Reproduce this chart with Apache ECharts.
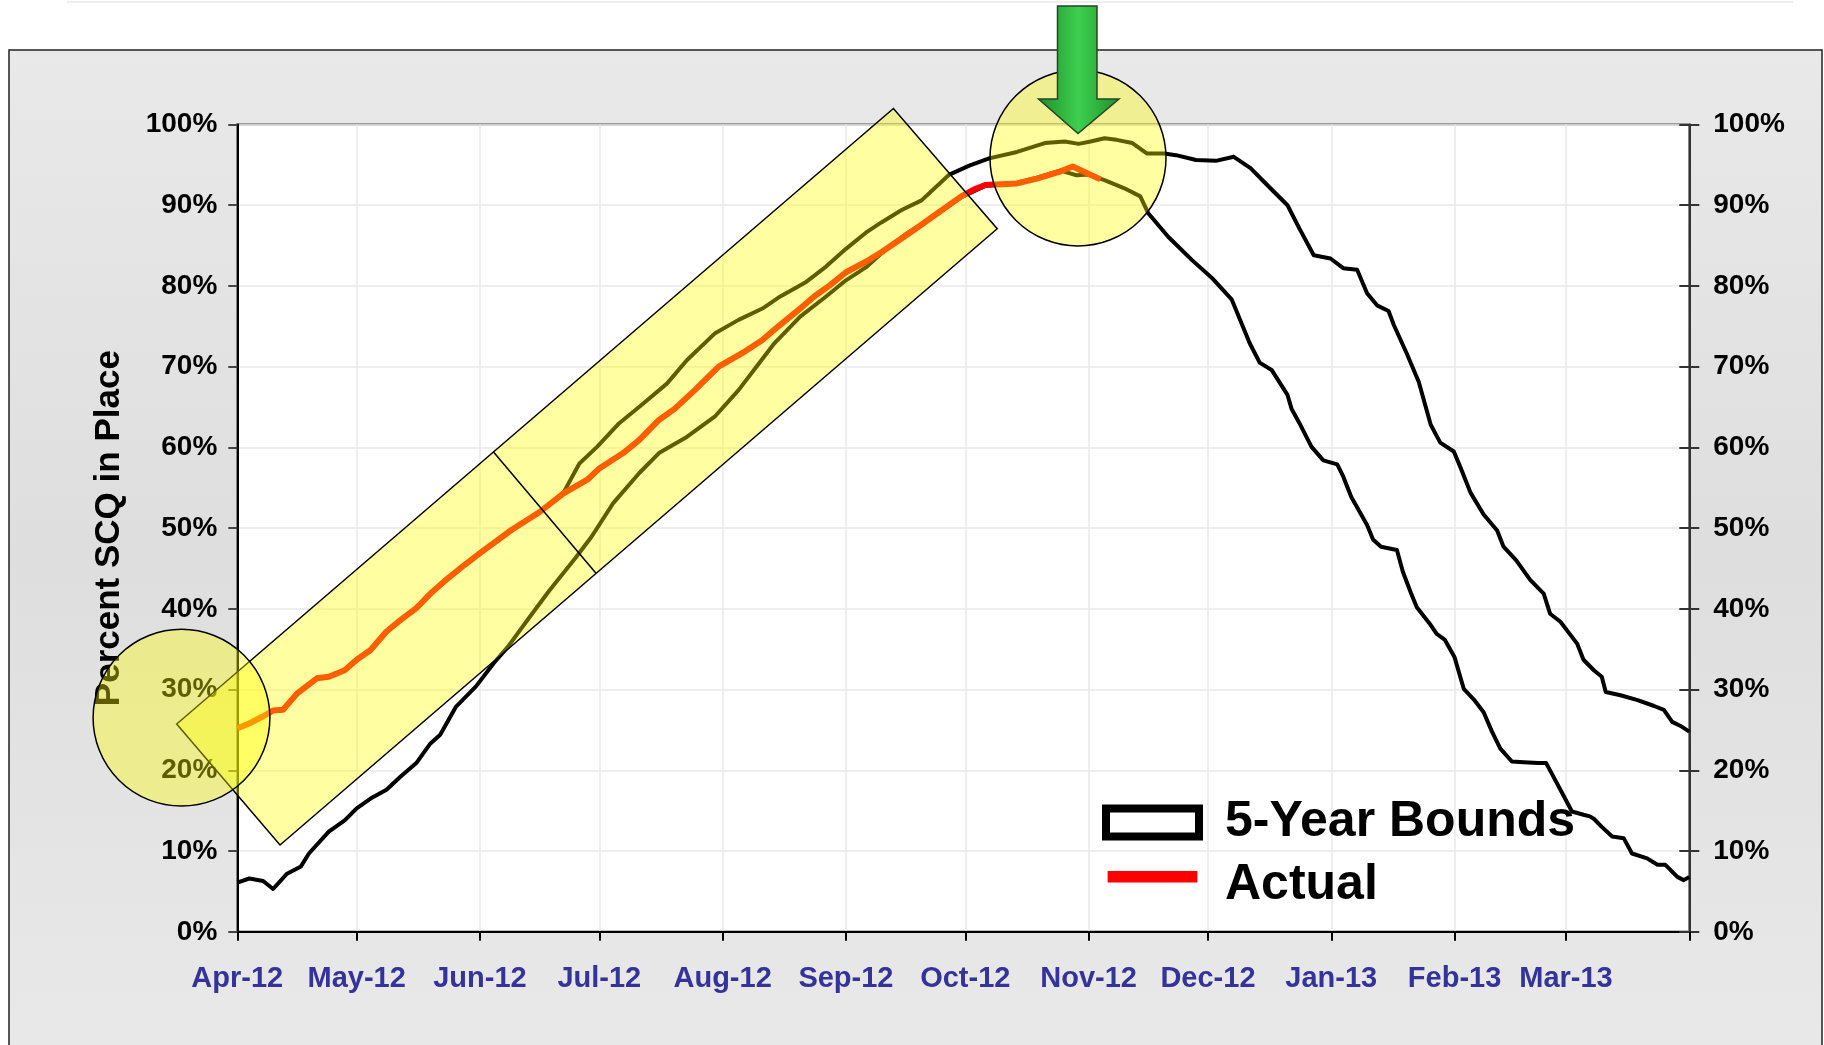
<!DOCTYPE html>
<html><head><meta charset="utf-8">
<style>html,body{margin:0;padding:0;background:#fff;}#c{width:1824px;height:1045px;}</style>
<script src="https://cdn.jsdelivr.net/npm/echarts@6/dist/echarts.min.js"></script>
</head><body><div id="c"></div><script>
// ---- data ----
const monthLabels = ['Apr-12','May-12','Jun-12','Jul-12','Aug-12','Sep-12','Oct-12','Nov-12','Dec-12','Jan-13','Feb-13','Mar-13'];
const monthDays = [30,31,30,31,31,30,31,30,31,31,28,31];
const yTicks = [0,10,20,30,40,50,60,70,80,90,100];

// day offsets from 1 Apr 2012, percent values
const actualDays = [0,3,6.5,9,11.5,15,20,23,27,30,33.5,37.5,41,45,49,52,57,61,69,76,82,88,91,97,101,106,110,115,121,127,132,136,141,145,149,153,158,162,170,176,182,185,188,192,196,201,207,210,213.5,217];
const actualPct  = [25.2,25.8,26.7,27.4,27.5,29.5,31.4,31.6,32.4,33.7,34.9,37.2,38.6,40.1,42.1,43.4,45.4,46.9,49.8,52.0,54.3,56.0,57.4,59.3,60.9,63.4,64.8,67.1,70.0,71.7,73.3,75.0,77.0,78.7,80.1,81.7,83.0,84.2,86.9,89.0,91.1,91.9,92.5,92.6,92.7,93.3,94.2,94.8,94.0,93.2];

const upperDays = [0,3,6.5,9,11.5,15,20,23,27,30,33.5,37.5,41,45,49,52,57,61,69,76,82,86,90.5,96,101,108,113,120,126,132,136.5,143,148,153,158,162,167,172,179,184,189,196,203,208,211.5,214.5,218,221,225,228.7,233,236,241,246,250.5,254.7,259.7,264,267,270.6,274.8,278,281.5,284,286.5,289.4,290.7,294,297,300,302.4,305.8,307.5,310,313.3,316.7,318.3,321.5,325,328.4,330,332.6,336.8,338.4,341,343,344,347.7,352,356,358.6,360.7,362.8,365];
const upperPct  = [25.2,25.8,26.7,27.4,27.5,29.5,31.4,31.6,32.4,33.7,34.9,37.2,38.6,40.1,42.1,43.4,45.4,46.9,49.8,52.0,54.4,58.0,60.1,63.0,65.0,67.9,70.8,74.1,75.8,77.2,78.7,80.5,82.4,84.6,86.6,87.9,89.4,90.6,93.8,94.9,95.8,96.6,97.7,97.9,97.6,97.9,98.3,98.1,97.7,96.4,96.4,96.2,95.6,95.5,96.0,94.6,92.1,90.0,87.1,83.8,83.4,82.2,82.0,79.1,77.6,76.9,75.2,71.6,68.1,62.8,60.6,59.5,57.5,54.4,51.7,49.7,47.7,46.0,43.6,41.9,39.4,38.4,35.7,33.7,32.4,31.6,29.7,29.3,28.7,28.0,27.5,26.0,25.5,24.8];

const lowerDays = [0,3,6.5,9,12.5,16,18,23,27,30,33.5,37.5,41,45,48.5,51,55,60,64.5,68,73.5,78.5,85,89,94.5,101,106,113,120,126,130.5,135,141.5,148,153,158,163,168,176,182,188,196,201,207,211,214,218,223,227,229,234,240,245,250,254.5,257,260,264,265,267,270,273,276.5,278,280,284,285.5,287.5,291.5,293,295,296.5,300,301.5,303.5,306,308.3,310.8,313.3,315.4,317.5,320.4,323.4,327,329,330,332.6,335.5,338.4,340,341,343,345.6,348.5,350.6,354.4,357,359,362,363.6,365];
const lowerPct  = [6.1,6.6,6.3,5.3,7.2,8.1,9.7,12.4,13.8,15.3,16.5,17.6,19.2,20.9,23.3,24.4,27.9,30.4,33.3,35.3,39.0,42.3,46.3,48.9,53.1,56.8,59.3,61.3,63.8,67.1,70.0,72.9,76.2,78.7,80.7,82.3,84.5,86.4,88.9,91.0,92.4,92.8,93.4,94.3,93.7,93.8,93.1,92.1,91.1,89.0,86.1,83.2,81.0,78.3,72.9,70.5,69.6,66.5,64.8,63.0,60.1,58.4,57.9,56.4,53.9,50.4,48.6,47.7,47.3,44.6,42.0,40.2,38.0,36.9,36.2,34.0,30.1,28.8,27.2,24.8,22.7,21.1,21.0,20.9,20.9,20.0,17.6,14.9,14.5,14.3,14.0,13.0,11.8,11.6,9.7,9.1,8.3,8.3,6.8,6.4,6.8];

// ---- build ----
const monthStarts = [0];
monthDays.forEach(n => monthStarts.push(monthStarts[monthStarts.length - 1] + n));
const pairs = (xs, ys) => xs.map((x, i) => [x, ys[i]]);
const FONT = '"Liberation Sans", Arial, Helvetica, sans-serif';
const OVER = 'rgba(255,255,0,0.37)';

const chart = echarts.init(document.getElementById('c'), null, {renderer: 'canvas', width: 1824, height: 1045});

const labelBase = {fontFamily: FONT, fontWeight: 'bold', fontSize: 28, color: '#000'};

chart.setOption({
  animation: false,
  backgroundColor: '#ffffff',
  grid: {left: 237.3, top: 124.5, width: 1452, height: 807.3, show: true,
         backgroundColor: '#ffffff', borderColor: '#808080', borderWidth: 2.5},
  legend: {
    orient: 'vertical', left: 1102, top: 791.5, padding: 0, itemGap: 0.5,
    itemWidth: 93, itemHeight: 28, symbolKeepAspect: true,
    textStyle: {fontFamily: FONT, fontSize: 50, fontWeight: 'bold', color: '#000', lineHeight: 62, padding: [0, 0, 0, 21]},
    data: [
      {name: '5-Year Bounds', icon: 'rect', itemStyle: {color: '#ffffff', borderColor: '#000000', borderWidth: 8}},
      {name: 'Actual', icon: 'path://M0,0L93,0L93,12L0,12Z M0,29L93,29', itemStyle: {color: '#ff0000', borderWidth: 0}}
    ]
  },
  xAxis: {
    type: 'value', min: 0, max: 365,
    axisLine: {show: true, onZero: false, lineStyle: {color: '#000', width: 2}},
    axisTick: {show: true, customValues: monthStarts, length: 9, lineStyle: {color: '#000', width: 2}},
    axisLabel: {customValues: monthStarts.slice(0, 12),
      formatter: v => { const i = monthStarts.indexOf(v); return i >= 0 && i < 12 ? monthLabels[i] : ''; },
      margin: 33, fontFamily: FONT, fontWeight: 'bold', fontSize: 29, color: '#333399'},
    splitLine: {show: true, lineStyle: {color: '#e8e8e8', width: 1.5}}
  },
  yAxis: [
    {type: 'value', min: 0, max: 100, interval: 10, position: 'left',
     name: 'Percent SCQ in Place', nameLocation: 'middle', nameGap: 110,
     nameTextStyle: {fontFamily: FONT, fontSize: 35, fontWeight: 'bold', color: '#000'},
     axisLine: {show: true, lineStyle: {color: '#000', width: 2}},
     axisTick: {show: true, length: 9, lineStyle: {color: '#444', width: 2}},
     axisLabel: Object.assign({formatter: '{value}%', margin: 20}, labelBase),
     splitLine: {show: true, lineStyle: {color: '#e8e8e8', width: 1.5}}},
    {type: 'value', min: 0, max: 100, interval: 10, position: 'right',
     axisLine: {show: true, lineStyle: {color: '#333', width: 2}},
     axisTick: {show: true, length: 10, lineStyle: {color: '#333', width: 2}},
     axisLabel: Object.assign({formatter: '{value}%', margin: 24}, labelBase),
     splitLine: {show: false}},
    {type: 'value', min: 0, max: 100, interval: 10, position: 'right',
     axisLine: {show: false},
     axisTick: {show: true, inside: true, length: 10, lineStyle: {color: '#333', width: 2}},
     axisLabel: {show: false}, splitLine: {show: false}}
  ],
  series: [
    {name: '5-Year Bounds', type: 'line', data: pairs(upperDays, upperPct), showSymbol: false, silent: true,
     lineStyle: {color: '#000', width: 4, join: 'round'}, itemStyle: {color: '#000'}, z: 3},
    {name: '5-Year Bounds', type: 'line', data: pairs(lowerDays, lowerPct), showSymbol: false, silent: true,
     lineStyle: {color: '#000', width: 4, join: 'round'}, itemStyle: {color: '#000'}, z: 3},
    {name: 'Actual', type: 'line', data: pairs(actualDays, actualPct), showSymbol: false, silent: true,
     lineStyle: {color: '#ff0000', width: 6, join: 'round'}, itemStyle: {color: '#ff0000'}, z: 4}
  ],
  graphic: [
    {type: 'rect', z: -100, silent: true, shape: {x: 9, y: 50, width: 1813, height: 1010},
     style: {fill: {type: 'linear', x: 0, y: 0, x2: 0, y2: 1, colorStops: [
       {offset: 0, color: '#e9e9e9'}, {offset: 0.5, color: '#dedede'}, {offset: 1, color: '#e9e9e9'}]},
       stroke: '#222', lineWidth: 1.5}},
    {type: 'line', z: -100, silent: true, shape: {x1: 67, y1: 2, x2: 1793, y2: 2}, style: {stroke: '#eeeeee', lineWidth: 2}},
    {type: 'polygon', z: 100, silent: true, shape: {points: [[176.7, 724], [893.4, 108.5], [997.2, 228.7], [280, 845]]},
     style: {fill: OVER, stroke: '#000', lineWidth: 1.5}},
    {type: 'line', z: 101, silent: true, shape: {x1: 493.3, y1: 451.7, x2: 596, y2: 573.3}, style: {stroke: '#000', lineWidth: 1.5}},
    {type: 'circle', z: 100, silent: true, shape: {cx: 181.5, cy: 717.7, r: 88.4}, style: {fill: OVER, stroke: '#000', lineWidth: 1.5}},
    {type: 'circle', z: 100, silent: true, shape: {cx: 1078, cy: 158, r: 88}, style: {fill: OVER, stroke: '#000', lineWidth: 1.5}},
    {type: 'polygon', z: 110, silent: true,
     shape: {points: [[1057.5, 6], [1097, 6], [1097, 99], [1119, 99], [1078, 133.5], [1038.5, 99], [1057.5, 99]]},
     style: {fill: {type: 'linear', x: 0, y: 0, x2: 1, y2: 0, colorStops: [
       {offset: 0, color: '#1f8f2d'}, {offset: 0.5, color: '#3dd04d'}, {offset: 1, color: '#1f8f2d'}]},
       stroke: '#264426', lineWidth: 1.5}}
  ]
});
</script></body></html>
